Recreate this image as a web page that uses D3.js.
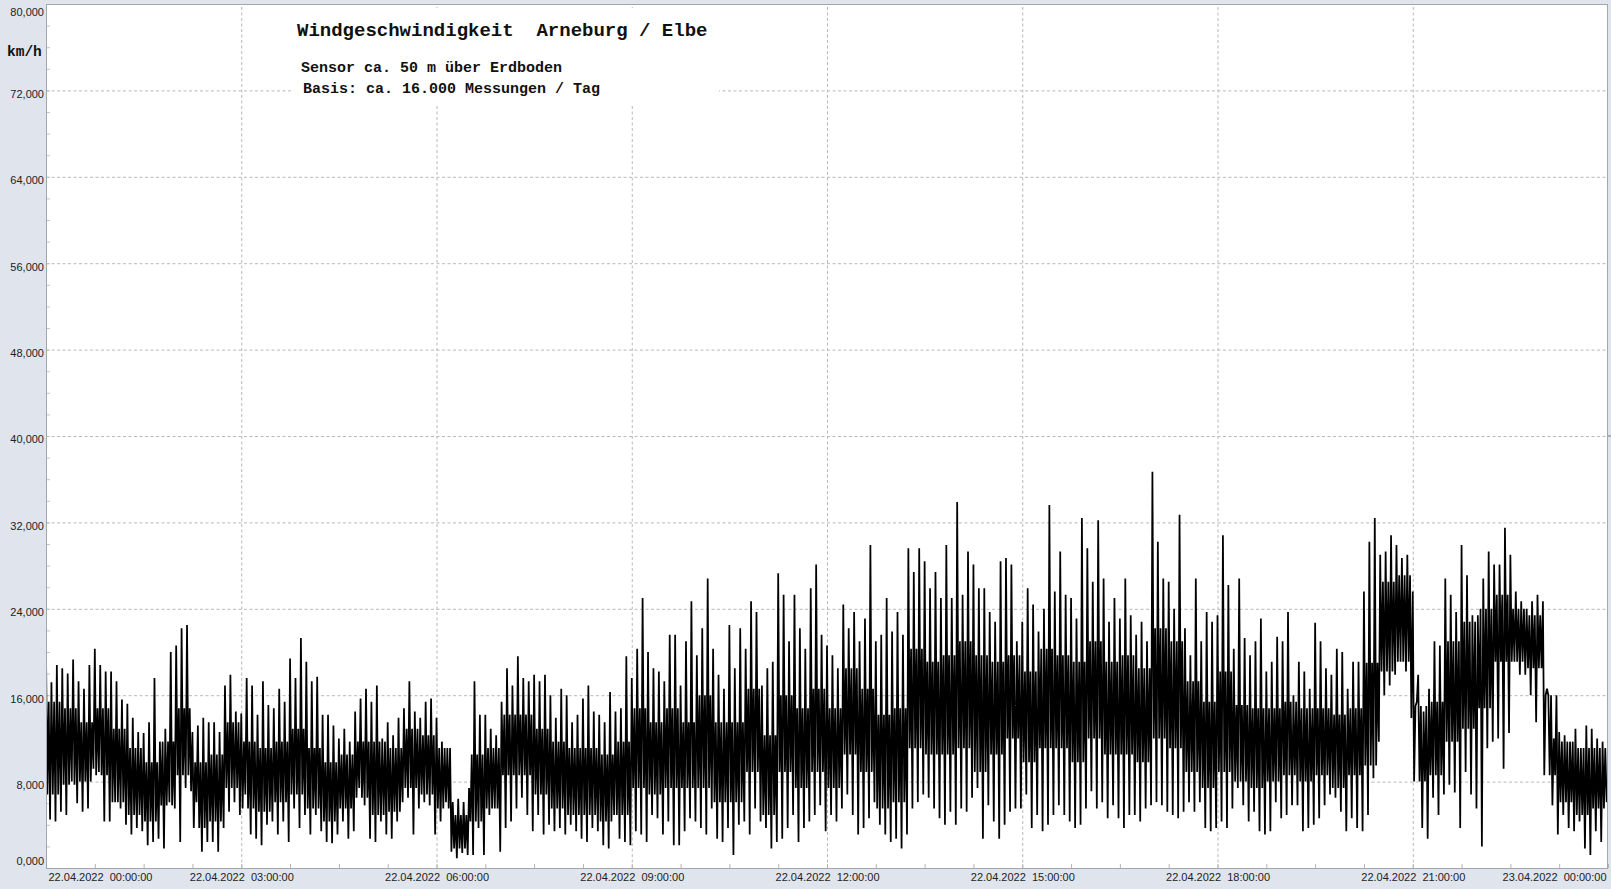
<!DOCTYPE html>
<html><head><meta charset="utf-8">
<script src="https://cdn.jsdelivr.net/npm/d3@7/dist/d3.min.js"></script>
<style>
html,body{margin:0;padding:0;background:#e0e4ec;}
svg{display:block;}
</style></head><body>
<svg id="chart" width="1611" height="889"></svg>
<script>
// ---------- data ----------
const startTime = new Date(2022, 3, 22, 0, 0, 0);
const binMinutes = 5;      // spike envelope resolution
const coreMinutes = 15;    // dense band resolution

// km/h, highest spike per 5-minute bin
const peakValues = [
 20.0,17.2,18.8,18.5,18.0,19.3,17.3,16.6,18.8,20.3,
 18.8,18.2,18.2,17.3,15.6,15.2,13.9,12.6,12.5,13.5,
 17.6,11.7,12.9,20.0,20.6,22.2,22.5,12.6,13.2,13.9,
 13.5,13.5,12.6,16.9,17.9,14.5,14.3,17.6,16.9,14.2,
 17.3,15.1,14.8,16.6,15.4,19.4,17.6,21.3,19.1,17.3,
 17.7,14.2,14.2,13.2,12.0,12.9,11.7,14.5,15.7,16.6,
 15.4,16.9,12.0,13.5,12.3,13.9,14.8,17.3,14.5,13.9,
 15.4,15.7,13.9,11.7,11.1,6.1,6.4,6.1,7.4,17.3,
 14.2,14.2,12.9,12.3,15.4,18.5,16.9,19.6,17.6,17.3,
 17.9,17.3,17.9,16.0,13.9,16.6,16.0,13.5,14.2,15.7,
 16.9,14.5,14.2,13.5,16.3,14.5,14.8,19.6,17.6,20.3,
 25.0,20.0,18.5,18.2,17.3,21.6,21.6,16.9,21.0,24.7,
 19.7,22.2,26.8,20.3,17.9,16.6,22.5,18.5,22.2,20.3,
 24.7,23.7,16.9,18.5,19.1,27.3,25.3,21.0,25.3,22.2,
 20.3,25.9,28.1,21.6,20.6,19.7,18.5,24.4,22.2,23.7,
 21.0,23.1,29.9,21.0,21.6,25.0,21.9,23.7,21.6,29.6,
 27.4,29.6,28.4,25.9,27.4,25.0,29.9,25.0,33.9,25.3,
 29.3,28.1,25.9,25.9,23.7,22.8,28.4,28.7,28.1,21.0,
 22.8,25.9,24.4,21.9,24.0,33.6,25.6,29.3,25.3,25.0,
 23.1,32.4,29.6,26.5,32.2,26.8,22.8,25.0,23.1,26.8,
 23.4,21.6,22.8,21.0,36.7,30.2,26.8,26.5,24.0,32.7,
 22.2,19.7,26.8,21.0,23.7,22.8,23.4,30.8,26.2,20.3,
 26.8,21.3,19.7,21.0,23.1,18.2,19.1,21.4,21.0,23.7,
 16.0,19.1,18.2,16.6,22.7,21.0,18.5,17.9,20.3,20.0,
 16.6,19.1,19.1,25.6,30.2,32.4,29.0,29.3,30.8,29.9,
 28.7,29.0,25.6,17.9,14.5,16.6,21.0,20.6,26.8,25.3,
 23.7,29.9,27.1,23.4,23.4,26.8,29.3,28.1,28.1,31.5,
 29.0,25.6,24.7,24.0,24.7,25.3,24.7,16.0,12.0,12.6,
 12.3,11.7,12.9,11.1,13.2,12.9,12.0,11.7
];
// km/h, lowest dip per 5-minute bin
const troughValues = [
 4.5,4.3,5.2,4.9,8.0,6.0,5.2,5.5,9.2,8.9,
 4.3,4.3,6.1,5.5,4.0,3.1,3.7,3.4,2.1,2.4,
 2.7,1.8,6.1,5.5,2.4,7.4,7.1,6.1,1.5,2.4,
 2.4,1.5,3.7,5.2,6.1,4.9,6.8,3.1,2.7,2.1,
 4.0,4.3,3.1,4.3,2.4,5.5,3.7,4.9,3.1,4.9,
 3.4,2.4,2.3,3.1,4.3,2.7,3.4,7.4,5.8,2.7,
 2.4,4.3,3.1,2.7,4.3,6.1,6.5,3.1,5.5,6.1,
 5.8,3.1,4.3,6.1,1.5,0.9,1.4,1.2,1.2,3.7,
 1.2,4.9,5.5,1.5,3.7,4.3,5.5,6.5,4.9,3.4,
 4.9,3.1,4.0,3.4,3.7,3.1,4.0,3.4,2.7,2.4,
 3.7,3.4,2.1,1.8,4.9,2.7,2.4,2.1,3.4,3.1,
 2.4,4.9,4.6,3.1,4.3,2.1,2.1,3.4,4.6,4.3,
 3.7,3.1,5.5,2.7,2.4,3.7,1.2,4.0,4.3,3.1,
 5.5,4.3,3.7,1.8,2.4,2.7,3.7,4.9,2.4,3.7,
 4.3,4.9,5.8,3.4,4.9,4.3,5.5,6.8,4.9,3.1,
 3.7,4.6,6.1,4.0,3.1,2.4,2.7,1.8,3.1,5.5,
 6.1,6.8,6.5,5.5,4.6,4.0,5.2,4.0,5.5,5.2,
 6.5,7.4,2.7,5.8,4.3,2.7,4.0,5.2,5.5,5.5,
 6.8,3.7,4.9,3.4,4.0,4.9,5.8,4.9,4.3,3.7,
 4.0,5.5,7.1,5.5,6.1,4.6,5.8,4.6,3.7,4.9,
 4.9,4.3,5.5,5.8,6.1,5.8,5.2,4.9,4.6,5.2,
 6.1,5.2,6.1,3.7,3.4,3.7,4.3,3.7,5.5,7.4,
 5.8,4.3,5.2,3.4,3.1,3.4,6.1,4.6,4.9,5.8,
 5.8,3.4,3.7,4.0,4.6,5.8,6.8,6.5,5.2,3.4,
 4.6,3.7,3.4,4.9,8.3,11.7,16.0,16.9,17.9,19.1,
 18.2,13.9,15.4,3.7,2.7,6.5,4.9,6.8,7.7,7.0,
 3.7,8.9,6.8,5.5,2.0,11.1,11.7,12.0,9.2,12.5,
 19.1,17.9,17.9,16.0,13.5,18.5,16.6,5.8,3.1,4.9,
 3.7,3.4,4.3,1.8,1.2,3.4,2.4,6.1
];
// km/h, upper / lower edge of the dense band per 15-minute bin
const coreUpper = [
 15.4,14.8,13.5,14.8,12.9,11.1,9.8,11.7,14.8,9.8,
 10.5,13.5,11.7,11.1,11.7,12.9,11.1,9.8,10.5,11.7,
 11.7,11.1,12.9,12.3,11.1,4.9,10.5,11.1,14.2,14.2,
 12.9,11.7,11.1,11.1,10.5,11.7,14.8,13.5,14.8,13.5,
 16.0,13.5,13.5,16.6,12.3,16.0,14.8,16.6,14.8,18.5,
 16.6,14.2,14.8,20.3,19.1,19.7,21.0,19.7,19.1,19.7,
 18.2,20.3,19.7,19.1,21.0,19.1,19.7,18.5,22.2,21.0,
 17.3,15.4,18.2,15.1,14.8,14.8,15.4,14.8,14.8,14.2,
 14.8,19.0,26.5,27.1,15.0,15.4,21.0,22.8,24.0,25.3,
 24.0,23.4,16.0,11.7,11.1,11.1
];
const coreLower = [
 6.8,7.7,8.0,8.6,6.1,4.9,4.3,5.8,8.6,3.7,
 4.3,7.4,5.5,5.2,6.1,6.8,5.5,4.3,5.5,6.5,
 4.9,5.2,7.4,6.8,5.5,1.8,4.3,5.5,8.6,8.6,
 6.8,5.5,4.9,4.9,4.3,4.9,7.4,6.8,7.4,7.4,
 7.4,6.1,6.1,8.9,4.9,8.9,7.4,8.9,7.4,10.5,
 8.9,5.5,6.1,11.1,10.5,10.5,11.1,8.9,10.5,12.0,
 9.8,11.1,11.1,9.8,12.0,10.5,10.5,9.8,12.0,11.1,
 8.9,7.4,8.9,8.0,7.4,8.0,8.6,8.0,8.6,7.4,
 8.6,9.5,18.2,19.1,8.0,8.6,11.7,12.9,14.8,19.1,
 19.1,18.5,8.6,6.1,4.9,5.5
];

const yTickValues = [0, 8, 16, 24, 32, 40, 48, 56, 64, 72, 80];
const yTickLabels = ["0,000","8,000","16,000","24,000","32,000","40,000","48,000","56,000","64,000","72,000","80,000"];
const xTickHours = [0, 3, 6, 9, 12, 15, 18, 21, 24];
const xTickLabels = [
 "22.04.2022  00:00:00","22.04.2022  03:00:00","22.04.2022  06:00:00",
 "22.04.2022  09:00:00","22.04.2022  12:00:00","22.04.2022  15:00:00",
 "22.04.2022  18:00:00","22.04.2022  21:00:00","23.04.2022  00:00:00"
];
const titleText = "Windgeschwindigkeit  Arneburg / Elbe";
const subtitleLines = ["Sensor ca. 50 m über Erdboden", "Basis: ca. 16.000 Messungen / Tag"];
const unitLabel = "km/h";

// ---------- layout ----------
const M = {left: 46, right: 1608, top: 4, bottom: 868};
const svg = d3.select("#chart");
const addMin = (mins) => new Date(startTime.getTime() + mins * 60000);

const x = d3.scaleTime().domain([startTime, addMin(24 * 60)]).range([M.left, M.right]);
const y = d3.scaleLinear().domain([0, 80]).range([M.bottom, M.top]);

const sans = "'Liberation Sans', Arial, sans-serif";
const mono = "'Liberation Mono', 'Courier New', monospace";

// plot background
svg.append("rect").attr("x", M.left).attr("y", M.top)
  .attr("width", M.right - M.left).attr("height", M.bottom - M.top).attr("fill", "#ffffff");

// gridlines
const gridColor = "#b9b9b9";
const yGrid = svg.append("g").attr("transform", `translate(${M.left},0)`)
  .call(d3.axisLeft(y).tickValues(yTickValues.filter(v => v > 0 && v < 80))
    .tickSize(-(M.right - M.left)).tickFormat(""));
yGrid.select(".domain").remove();
yGrid.selectAll("line").attr("stroke", gridColor).attr("stroke-dasharray", "3,2.5");

const xGrid = svg.append("g").attr("transform", `translate(0,${M.bottom})`)
  .call(d3.axisBottom(x).tickValues(xTickHours.filter(h => h > 0 && h < 24).map(h => addMin(h * 60)))
    .tickSize(-(M.bottom - M.top)).tickFormat(""));
xGrid.select(".domain").remove();
xGrid.selectAll("line").attr("stroke", gridColor).attr("stroke-dasharray", "3,2.5");

// minor ticks
const yMinor = svg.append("g").attr("transform", `translate(${M.left},0)`)
  .call(d3.axisLeft(y).tickValues(d3.range(0, 81, 2)).tickSize(-4).tickFormat(""));
yMinor.select(".domain").remove();
yMinor.selectAll("line").attr("stroke", "#c4c4c4");

const xMinor = svg.append("g").attr("transform", `translate(0,${M.bottom})`)
  .call(d3.axisBottom(x).tickValues(d3.range(0, 24 * 60 + 1, 45).map(addMin)).tickSize(-4).tickFormat(""));
xMinor.select(".domain").remove();
xMinor.selectAll("line").attr("stroke", "#b4b4b4");

// title box
svg.append("rect").attr("x", 292).attr("y", 8).attr("width", 427).attr("height", 98).attr("fill", "#ffffff");
svg.append("text").attr("x", 297).attr("y", 36).text(titleText)
  .style("white-space", "pre").attr("font-family", mono).attr("font-weight", "bold")
  .attr("font-size", 19).attr("fill", "#111");
svg.append("text").attr("x", 301).attr("y", 72).text(subtitleLines[0])
  .style("white-space", "pre").attr("font-family", mono).attr("font-weight", "bold")
  .attr("font-size", 15).attr("fill", "#111");
svg.append("text").attr("x", 303).attr("y", 93).text(subtitleLines[1])
  .style("white-space", "pre").attr("font-family", mono).attr("font-weight", "bold")
  .attr("font-size", 15).attr("fill", "#111");

// data
svg.append("clipPath").attr("id", "plotclip").append("rect")
  .attr("x", M.left).attr("y", M.top).attr("width", M.right - M.left).attr("height", M.bottom - M.top);
const dataG = svg.append("g").attr("clip-path", "url(#plotclip)");

// trace: within each 5-minute bin the line visits the peak, the dense band's
// lower and upper edge (of the enclosing 15-minute bin) and the trough
const perCore = coreMinutes / binMinutes;
const trace = peakValues.flatMap((p, i) => {
  const j = Math.floor(i / perCore);
  const t0 = i * binMinutes, q = binMinutes / 4;
  return [
    {t: addMin(t0), v: p},
    {t: addMin(t0 + q), v: coreLower[j]},
    {t: addMin(t0 + 2 * q), v: coreUpper[j]},
    {t: addMin(t0 + 3 * q), v: troughValues[i]}
  ];
});
dataG.append("path").datum(trace)
  .attr("d", d3.line().x(d => x(d.t)).y(d => y(d.v)))
  .attr("fill", "none").attr("stroke", "#000").attr("stroke-width", 1.75)
  .attr("stroke-linejoin", "bevel");

// plot frame
svg.append("rect").attr("x", M.left + 0.5).attr("y", M.top + 0.5)
  .attr("width", M.right - M.left - 1).attr("height", M.bottom - M.top)
  .attr("fill", "none").attr("stroke", "#a2a6ad").attr("stroke-width", 1);
svg.append("line").attr("x1", M.right).attr("x2", M.right + 3)
  .attr("y1", y(40)).attr("y2", y(40)).attr("stroke", "#777");

// y labels
const yAxis = svg.append("g").attr("transform", `translate(${M.left - 2},0)`)
  .call(d3.axisLeft(y).tickValues(yTickValues).tickSize(0).tickPadding(0)
    .tickFormat((d, i) => yTickLabels[i]));
yAxis.select(".domain").remove();
yAxis.selectAll("text").attr("font-family", sans).attr("font-size", 11).attr("fill", "#222")
  .attr("dy", "0.35em").attr("y", d => d === 80 ? 8 : (d === 0 ? -7 : 3));

// x labels
const xAxis = svg.append("g").attr("transform", `translate(0,${M.bottom})`)
  .call(d3.axisBottom(x).tickValues(xTickHours.map(h => addMin(h * 60))).tickSize(0).tickPadding(5)
    .tickFormat((d, i) => xTickLabels[i]));
xAxis.select(".domain").remove();
xAxis.selectAll("text").attr("font-family", sans).attr("font-size", 11).attr("fill", "#222")
  .style("white-space", "pre");
xAxis.selectAll("text").filter((d, i) => i === 0).attr("text-anchor", "start").attr("x", 2);
xAxis.selectAll("text").filter((d, i) => i === xTickHours.length - 1).attr("text-anchor", "end").attr("x", -2);

// unit label
svg.append("text").attr("x", 7).attr("y", 56).text(unitLabel)
  .attr("font-family", mono).attr("font-weight", "bold").attr("font-size", 14.5).attr("fill", "#111");
</script>
</body></html>
